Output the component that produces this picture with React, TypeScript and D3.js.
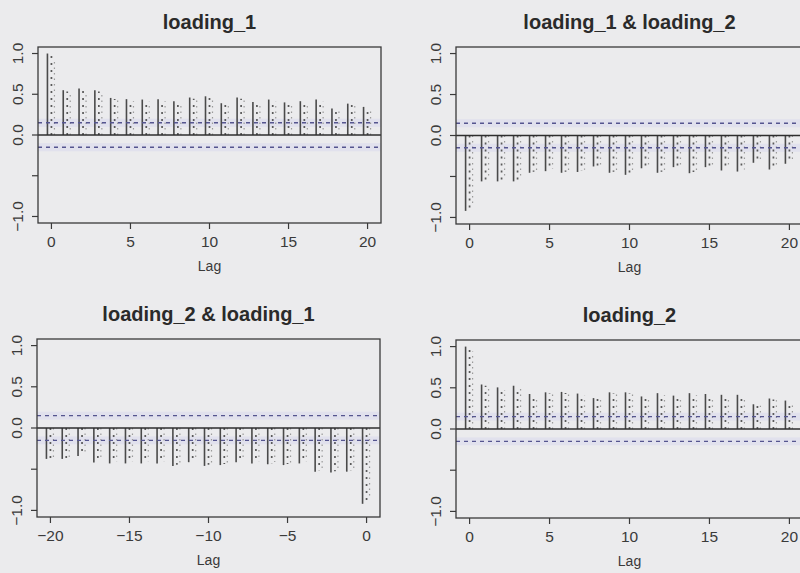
import React from "react";
import * as d3 from "d3";

// Autocorrelation / cross-correlation estimates per panel
const lagsPos = d3.range(0, 21);
const lagsNeg = d3.range(-20, 1);

const acfLoading1 = [1.0, 0.55, 0.57, 0.55, 0.455, 0.44, 0.435, 0.44, 0.415, 0.46, 0.475, 0.39, 0.46, 0.405, 0.435, 0.4, 0.415, 0.435, 0.325, 0.385, 0.345];
const ccf12 = [-0.92, -0.56, -0.56, -0.56, -0.455, -0.435, -0.455, -0.445, -0.378, -0.455, -0.48, -0.4, -0.455, -0.386, -0.46, -0.386, -0.427, -0.44, -0.333, -0.415, -0.345];
const ccf21 = [-0.375, -0.375, -0.34, -0.42, -0.43, -0.43, -0.43, -0.43, -0.46, -0.415, -0.46, -0.45, -0.415, -0.43, -0.44, -0.45, -0.43, -0.53, -0.54, -0.53, -0.92];
const acfLoading2 = [1.0, 0.54, 0.505, 0.525, 0.425, 0.445, 0.45, 0.43, 0.375, 0.445, 0.445, 0.395, 0.435, 0.405, 0.435, 0.425, 0.415, 0.415, 0.3, 0.37, 0.345];

const titles = ["loading_1", "loading_1 & loading_2", "loading_2 & loading_1", "loading_2"];
const confBound = 0.15;
const yTickValues = [-1, -0.5, 0, 0.5, 1];
const yTickLabels = ["-1.0", "", "0.0", "0.5", "1.0"];
const xTicksPos = [0, 5, 10, 15, 20];
const xTicksNeg = [-20, -15, -10, -5, 0];
const xLabel = "Lag";

type Panel = {
  title: string;
  lags: number[];
  values: number[];
  xTicks: number[];
  xDomain: [number, number];
  box: { left: number; right: number; top: number; bottom: number };
};

const panels: Panel[] = [
  { title: titles[0], lags: lagsPos, values: acfLoading1, xTicks: xTicksPos, xDomain: [-0.85, 20.85], box: { left: 38, right: 381, top: 47, bottom: 223 } },
  { title: titles[1], lags: lagsPos, values: ccf12, xTicks: xTicksPos, xDomain: [-0.85, 20.85], box: { left: 456, right: 803, top: 47, bottom: 224 } },
  { title: titles[2], lags: lagsNeg, values: ccf21, xTicks: xTicksNeg, xDomain: [-20.85, 0.85], box: { left: 37, right: 380, top: 339, bottom: 517 } },
  { title: titles[3], lags: lagsPos, values: acfLoading2, xTicks: xTicksPos, xDomain: [-0.85, 20.85], box: { left: 456, right: 803, top: 340, bottom: 518 } },
];

const FONT = "'Liberation Sans', Arial, Helvetica, sans-serif";
const INK = "#3a3a3a";
const DASH = "#55558f";

function AcfPanel({ p }: { p: Panel }) {
  const { box } = p;
  const x = d3.scaleLinear().domain(p.xDomain).range([box.left, box.right]);
  const y = d3.scaleLinear().domain([-1.08, 1.08]).range([box.bottom, box.top]);
  const cx = (box.left + box.right) / 2;
  const y0 = y(0);

  return (
    <g>
      <text x={cx} y={box.top - 18} textAnchor="middle" fontFamily={FONT} fontWeight="bold" fontSize={20} fill="#2a2a2a">
        {p.title}
      </text>

      {/* faint bands around the confidence limits */}
      {[confBound, -confBound].map((c) => (
        <rect key={"band" + c} x={box.left} y={y(c) - 4} width={box.right - box.left} height={8} fill="#c9c9ee" opacity={0.3} />
      ))}

      {/* correlation bars */}
      {p.lags.map((lag, i) => {
        const v = p.values[i];
        const xl = x(lag);
        return (
          <g key={"bar" + lag}>
            <line x1={xl - 4} x2={xl - 4} y1={y0} y2={y(v)} stroke="#4a4a4a" strokeWidth={1.6} />
            <line x1={xl} x2={xl} y1={y0} y2={y(v * 0.97)} stroke="#5a5a5a" strokeWidth={1.7} strokeDasharray="2 5" />
            <line x1={xl + 3} x2={xl + 3} y1={y0} y2={y(v * 0.94)} stroke="#9a9a9a" strokeWidth={1.2} strokeDasharray="1.5 4" />
          </g>
        );
      })}

      {/* zero line */}
      <line x1={box.left} x2={box.right} y1={y0} y2={y0} stroke="#2e2e2e" strokeWidth={1.5} />

      {/* confidence limits */}
      {[confBound, -confBound].map((c) => (
        <line key={"ci" + c} x1={box.left} x2={box.right} y1={y(c)} y2={y(c)} stroke={DASH} strokeWidth={1.4} strokeDasharray="4 4" />
      ))}

      {/* plot frame */}
      <rect x={box.left} y={box.top} width={box.right - box.left} height={box.bottom - box.top} fill="none" stroke={INK} strokeWidth={1.3} />

      {/* y axis */}
      {yTickValues.map((t, i) => (
        <g key={"yt" + t}>
          <line x1={box.left - 6} x2={box.left} y1={y(t)} y2={y(t)} stroke={INK} strokeWidth={1.2} />
          {yTickLabels[i] && (
            <text
              transform={`translate(${box.left - 15},${y(t)}) rotate(-90)`}
              textAnchor="middle"
              fontFamily={FONT}
              fontSize={15.5}
              fill={INK}
            >
              {yTickLabels[i].replace("-", "\u2212")}
            </text>
          )}
        </g>
      ))}

      {/* x axis */}
      {p.xTicks.map((t) => (
        <g key={"xt" + t}>
          <line x1={x(t)} x2={x(t)} y1={box.bottom} y2={box.bottom + 6} stroke={INK} strokeWidth={1.2} />
          <text x={x(t)} y={box.bottom + 24} textAnchor="middle" fontFamily={FONT} fontSize={15.5} fill={INK}>
            {String(t).replace("-", "\u2212")}
          </text>
        </g>
      ))}
      <text x={cx} y={box.bottom + 48} textAnchor="middle" fontFamily={FONT} fontSize={14} fill={INK}>
        {xLabel}
      </text>
    </g>
  );
}

export default function App() {
  return (
    <svg
      width={800}
      height={573}
      viewBox="0 0 800 573"
      style={{ position: "absolute", left: 0, top: 0, background: "#ebebed" }}
    >
      <rect width={800} height={573} fill="#ebebed" />
      {panels.map((p) => (
        <AcfPanel key={p.title} p={p} />
      ))}
    </svg>
  );
}
